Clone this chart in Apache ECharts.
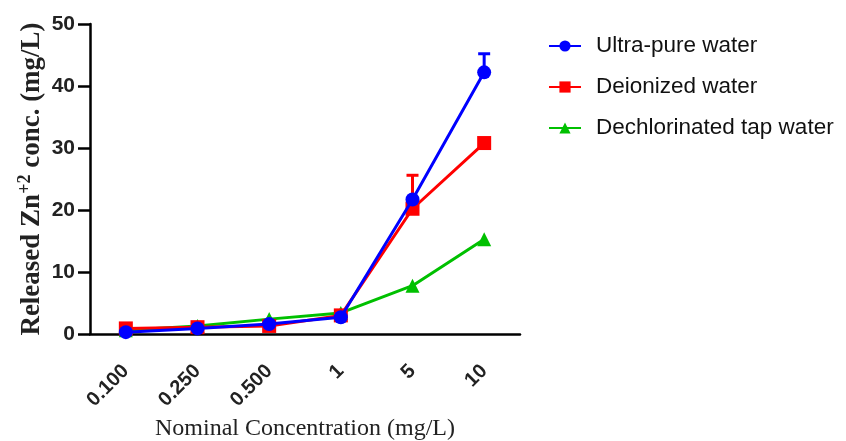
<!DOCTYPE html>
<html><head><meta charset="utf-8">
<script src="https://cdn.jsdelivr.net/npm/echarts@6/dist/echarts.min.js"></script>
<style>html,body{margin:0;padding:0;background:#fff}#c{width:846px;height:441px}</style>
</head><body><div id="c"></div>
<script>
const categories = ['0.100','0.250','0.500','1','5','10'];
const ultraPure = [0.3, 0.9, 1.6, 2.7, 21.7, 42.2];
const deionized = [0.9, 1.1, 1.3, 3.0, 20.2, 30.8];
const dechlorinated = [0.6, 1.3, 2.4, 3.4, 7.8, 15.3];
const ultraPureErr = [0, 0, 0, 0, 0, 3.0];
const deionizedErr = [0, 0, 0, 0, 5.4, 0];
const yTicks = [0, 10, 20, 30, 40, 50];

function errSeries(vals, errs, color) {
  const data = vals.map((v, i) => [i, v, v + errs[i]]).filter((d, i) => errs[i] > 0);
  return {
    type: 'custom', z: 1, silent: true,
    renderItem: function (params, api) {
      const p0 = api.coord([api.value(0), api.value(1)]);
      const p1 = api.coord([api.value(0), api.value(2)]);
      const hw = 6;
      return {
        type: 'group',
        children: [
          {type: 'line', shape: {x1: p0[0], y1: p0[1], x2: p1[0], y2: p1[1]}, style: {stroke: color, lineWidth: 3}},
          {type: 'line', shape: {x1: p1[0]-hw, y1: p1[1], x2: p1[0]+hw, y2: p1[1]}, style: {stroke: color, lineWidth: 3}}
        ]
      };
    },
    data: data
  };
}

const chart = echarts.init(document.getElementById('c'));
chart.setOption({
  animation: false,
  grid: {left: 90, right: 326, top: 24, bottom: 107, containLabel: false, outerBoundsMode: 'none'},
  legend: {
    orient: 'vertical', left: 543, top: 28, itemGap: 15, itemWidth: 32, itemHeight: 14,
    textStyle: {fontFamily: 'Liberation Sans, Arial', fontSize: 22.5, lineHeight: 26, color: '#111', padding: [0, 0, 0, 10]},
    data: ['Ultra-pure water', 'Deionized water', 'Dechlorinated tap water']
  },
  xAxis: {
    type: 'category', data: categories, boundaryGap: true,
    name: 'Nominal Concentration (mg/L)', nameLocation: 'middle', nameGap: 83, nameMoveOverlap: false,
    nameTextStyle: {fontFamily: 'Liberation Serif, Times New Roman', fontSize: 24, color: '#222'},
    axisLine: {lineStyle: {color: '#000', width: 2.5}},
    axisTick: {show: false},
    axisLabel: {rotate: 45, margin: 34, fontFamily: 'Liberation Sans, Arial', fontWeight: 'bold', fontSize: 20, color: '#222'}
  },
  yAxis: {
    type: 'value', min: 0, max: 50, interval: 10,
    name: '{a|Released Zn}{s|+2}{a| conc. (mg/L)}', nameLocation: 'middle', nameGap: 42, nameMoveOverlap: false,
    nameTextStyle: {rich: {
      a: {fontFamily: 'Liberation Serif, Times New Roman', fontWeight: 'bold', fontSize: 27, color: '#222'},
      s: {fontFamily: 'Liberation Serif, Times New Roman', fontWeight: 'bold', fontSize: 18, color: '#222', verticalAlign: 'top', padding: [0, 0, 14, 0]}
    }},
    axisLine: {show: true, lineStyle: {color: '#000', width: 2.5}},
    axisTick: {show: true, length: 12, lineStyle: {color: '#000', width: 2.5}},
    splitLine: {show: false},
    axisLabel: {margin: 15, fontFamily: 'Liberation Sans, Arial', fontWeight: 'bold', fontSize: 21, color: '#222',
      formatter: v => yTicks.includes(v) ? String(v) : ''}
  },
  series: [
    errSeries(ultraPure, ultraPureErr, '#0000ff'),
    errSeries(deionized, deionizedErr, '#ff0000'),
    {name: 'Dechlorinated tap water', type: 'line', data: dechlorinated, symbol: 'triangle', symbolSize: 14,
      itemStyle: {color: '#00c000'}, lineStyle: {color: '#00c000', width: 3}, z: 3},
    {name: 'Deionized water', type: 'line', data: deionized, symbol: 'rect', symbolSize: 14,
      itemStyle: {color: '#ff0000'}, lineStyle: {color: '#ff0000', width: 3}, z: 4},
    {name: 'Ultra-pure water', type: 'line', data: ultraPure, symbol: 'circle', symbolSize: 14,
      itemStyle: {color: '#0000ff'}, lineStyle: {color: '#0000ff', width: 3}, z: 5}
  ]
});
</script></body></html>
